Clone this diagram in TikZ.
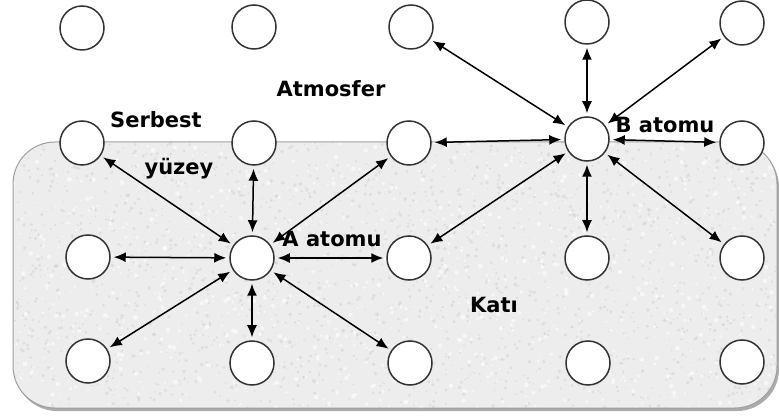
\documentclass[tikz,border=0pt]{standalone}
\usepackage{fontspec}
\setmainfont{DejaVu Sans}
\usetikzlibrary{arrows.meta}

\begin{document}
\begin{tikzpicture}[x=1pt,y=-1pt,
  atom/.style={circle, draw=black!80, line width=1.5pt, fill=white,
               minimum size=44pt, inner sep=0pt},
  bond/.style={{Latex[length=12pt,width=10pt]}-{Latex[length=12pt,width=10pt]},
               line width=1.5pt, shorten <=3pt, shorten >=3pt},
  lbl/.style={font=\bfseries\fontsize{21}{21}\selectfont, anchor=base, inner sep=0pt},
  solidbox/.style={rounded corners=42pt}]

\useasboundingbox (0,0) rectangle (779,419);

% solid region: shadow, grainy fill, border
\fill[gray!65, solidbox] (15,145) rectangle (779,411);
\begin{scope}
  \clip[solidbox] (13,142) rectangle (777,408);
  \fill[gray!14] (13,142) rectangle (777,408);
  \pgfmathsetseed{11}
  \foreach \i in {1,...,2000}{
    \pgfmathsetmacro\px{13+764*rnd}
    \pgfmathsetmacro\py{142+266*rnd}
    \pgfmathsetmacro\rr{0.6+1.4*rnd}
    \fill[gray!40, opacity=0.45] (\px,\py) circle (\rr pt);
  }
  \foreach \i in {1,...,1000}{
    \pgfmathsetmacro\px{13+764*rnd}
    \pgfmathsetmacro\py{142+266*rnd}
    \pgfmathsetmacro\rr{0.8+1.6*rnd}
    \fill[white, opacity=0.6] (\px,\py) circle (\rr pt);
  }
\end{scope}
\draw[gray!75, line width=1pt, solidbox] (13,142) rectangle (777,408);

% lattice of atoms
\node[atom] (n11) at (82,28) {};
\node[atom] (n12) at (254,27) {};
\node[atom] (n13) at (411,27) {};
\node[atom] (n14) at (587,22) {};
\node[atom] (n15) at (742,23) {};

\node[atom] (n21) at (82,143) {};
\node[atom] (n22) at (254,143) {};
\node[atom] (n23) at (409,143) {};
\node[atom] (B)   at (587,139) {};
\node[atom] (n25) at (742,143) {};

\node[atom] (n31) at (88,257) {};
\node[atom] (A)   at (252,258) {};
\node[atom] (n33) at (409,258) {};
\node[atom] (n34) at (587,258) {};
\node[atom] (n35) at (742,258) {};

\node[atom] (n41) at (88,361) {};
\node[atom] (n42) at (252,363) {};
\node[atom] (n43) at (410,363) {};
\node[atom] (n44) at (588,363) {};
\node[atom] (n45) at (742,362) {};

% bonds of atom A
\draw[bond] (A) -- (n21);
\draw[bond] (A) -- (n22);
\draw[bond] (A) -- (n23);
\draw[bond] (A) -- (n31);
\draw[bond] (A) -- (n33);
\draw[bond] (A) -- (n41);
\draw[bond] (A) -- (n42);
\draw[bond] (A) -- (n43);

% bonds of atom B
\draw[bond] (B) -- (n13);
\draw[bond] (B) -- (n14);
\draw[bond] (B) -- (n15);
\draw[bond] (B) -- (n23);
\draw[bond] (B) -- (n25);
\draw[bond] (B) -- (n33);
\draw[bond] (B) -- (n34);
\draw[bond] (B) -- (n35);

% labels
\node[lbl] (tatm) at (331,97) {Atmosfer};
\node[lbl] (tser) at (156,128) {Serbest};
\node[lbl] (tyuz) at (179,175) {yüzey};
\node[lbl] (ta)   at (332,247) {A atomu};
\node[lbl] (tb)   at (665,133) {B atomu};
\node[lbl] (tkat) at (494,313) {Katı};

\end{tikzpicture}
\end{document}
